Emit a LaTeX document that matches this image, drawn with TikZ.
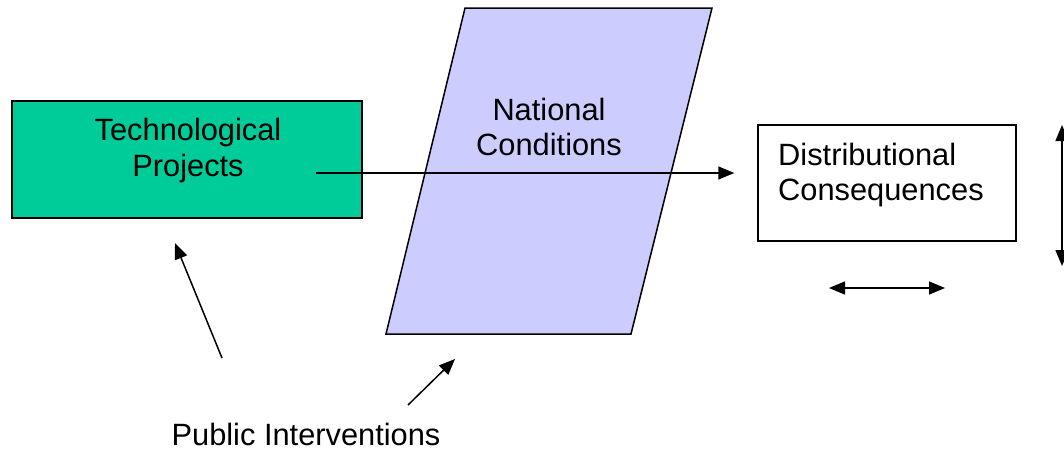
\documentclass[tikz,border=0pt]{standalone}
\usepackage{fontspec}
\setmainfont{Liberation Sans}
\usetikzlibrary{arrows.meta}
\definecolor{projgreen}{RGB}{0,204,153}
\definecolor{condlilac}{RGB}{204,204,255}
\tikzset{
  box/.style={draw=black, line width=1.5pt, inner sep=0pt},
  txt/.style={font=\fontsize{30.8}{35.5}\selectfont, inner sep=0pt},
  arr/.style={line width=1.5pt, -{Triangle[length=16pt,width=13pt]}},
  dblarr/.style={line width=1.5pt, {Triangle[length=16pt,width=13pt]}-{Triangle[length=16pt,width=13pt]}}
}
\begin{document}
\begin{tikzpicture}[x=1pt,y=-1pt]
  \useasboundingbox (0,0) rectangle (1064,450);
  % boxes
  \node[box, fill=projgreen, minimum width=350pt, minimum height=117pt] (proj) at (187,159.5) {};
  \node[txt, align=center] (projtxt) at (188,150.5) {Technological\\Projects};
  \coordinate (c1) at (465,8);
  \coordinate (c2) at (712,8);
  \coordinate (c3) at (631,334);
  \coordinate (c4) at (386,334);
  \draw[box, fill=condlilac] (c1) -- (c2) -- (c3) -- (c4) -- cycle;
  \node[txt, align=center] (cond) at (549,127) {National\\Conditions};
  \node[box, fill=white, minimum width=258pt, minimum height=116pt] (dist) at (887,183) {};
  \node[txt, align=left, anchor=west] (disttxt) at (778,175) {Distributional\\Consequences};
  \node[txt] (pub) at (306,434) {Public Interventions};
  % arrows
  \coordinate (s) at (316,173);
  \draw[arr] (s) -- ([xshift=-23pt]dist.west |- s);
  \coordinate (p1) at (222,358);
  \coordinate (p2) at (175,243);
  \draw[arr] (p1) -- (p2);
  \coordinate (q1) at (408,405);
  \coordinate (q2) at (455,359);
  \draw[arr] (q1) -- (q2);
  \coordinate (h1) at (829,288);
  \coordinate (h2) at (945,288);
  \draw[dblarr] (h1) -- (h2);
  \coordinate (v1) at (1062,125);
  \coordinate (v2) at (1062,266);
  \draw[dblarr] (v1) -- (v2);
\end{tikzpicture}
\end{document}
